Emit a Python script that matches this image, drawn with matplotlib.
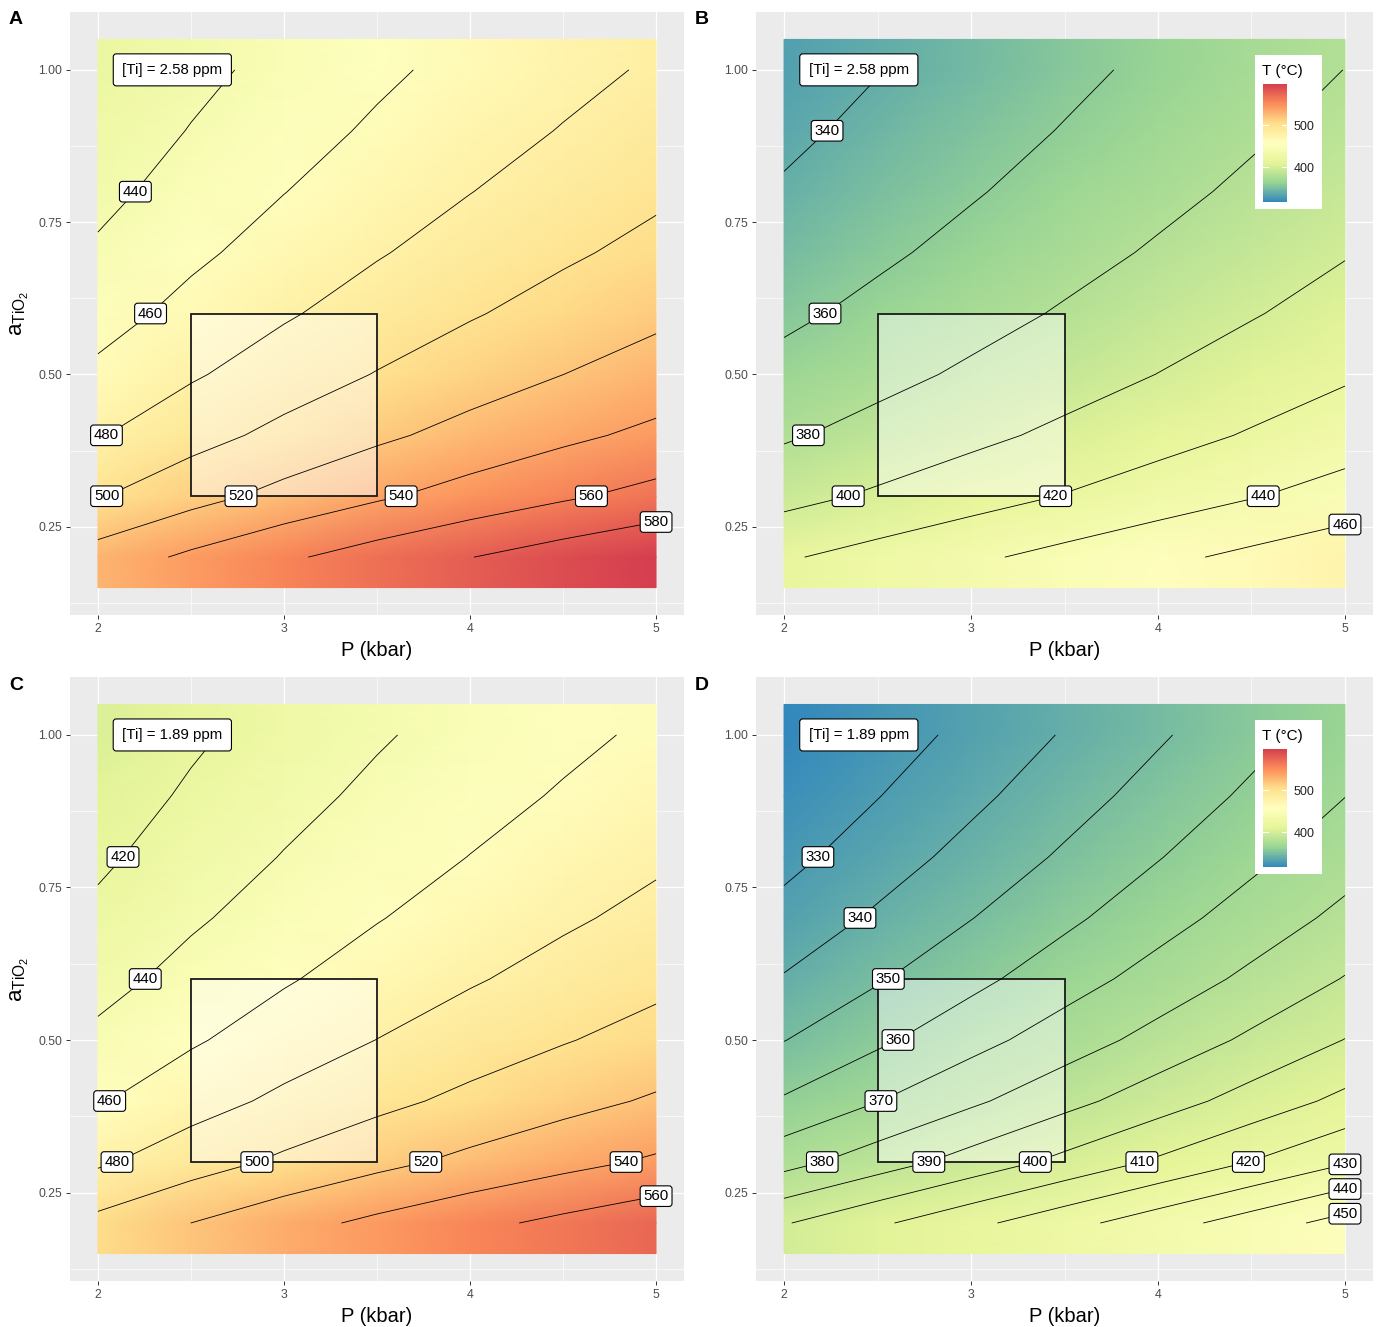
import numpy as np
import matplotlib
matplotlib.use("Agg")
import matplotlib.pyplot as plt
from matplotlib.colors import LinearSegmentedColormap, Normalize
from matplotlib.cm import ScalarMappable
from matplotlib.patches import Rectangle

plt.rcParams['font.family'] = ['Liberation Sans', 'DejaVu Sans']
plt.rcParams['mathtext.fontset'] = 'custom'
plt.rcParams['mathtext.rm'] = 'Liberation Sans'
plt.rcParams['mathtext.it'] = 'Liberation Sans:italic'

W, H = 1379, 1327

# ---- data: T (degC) on a grid of P (kbar) x aTiO2 ----
pressure = [2, 2.5, 3, 3.5, 4, 4.5, 5]
a_tio2 = [0.2, 0.3, 0.4, 0.5, 0.6, 0.7, 0.8, 0.9, 1.0]

# rows follow a_tio2, columns follow pressure
temp_a = [[528.60, 543.68, 556.90, 568.76, 579.57, 589.53, 598.79],
          [498.63, 513.15, 525.88, 537.30, 547.70, 557.28, 566.20],
          [478.70, 492.84, 505.24, 516.36, 526.49, 535.83, 544.51],
          [463.93, 477.79, 489.95, 500.85, 510.78, 519.93, 528.45],
          [452.28, 465.92, 477.89, 488.62, 498.40, 507.41, 515.79],
          [442.72, 456.18, 467.99, 478.58, 488.23, 497.12, 505.39],
          [434.64, 447.95, 459.63, 470.10, 479.64, 488.43, 496.60],
          [427.66, 440.84, 452.40, 462.77, 472.21, 480.91, 489.01],
          [421.54, 434.60, 446.06, 456.34, 465.70, 474.33, 482.35]]
temp_b = [[417.94, 427.28, 436.62, 445.96, 455.29, 464.63, 473.96],
          [393.82, 402.83, 411.84, 420.85, 429.86, 438.87, 447.88],
          [377.71, 386.51, 395.30, 404.09, 412.88, 421.68, 430.47],
          [365.73, 374.36, 382.99, 391.63, 400.26, 408.89, 417.52],
          [356.27, 364.78, 373.28, 381.79, 390.29, 398.79, 407.29],
          [348.49, 356.89, 365.29, 373.69, 382.09, 390.49, 398.88],
          [341.90, 350.21, 358.52, 366.83, 375.14, 383.45, 391.76],
          [336.21, 344.44, 352.67, 360.91, 369.14, 377.37, 385.60],
          [331.20, 339.37, 347.53, 355.70, 363.86, 372.03, 380.19]]
temp_c = [[505.40, 520.04, 532.88, 544.40, 554.89, 564.56, 573.55],
          [477.11, 491.22, 503.60, 514.70, 524.81, 534.13, 542.79],
          [458.26, 472.02, 484.08, 494.90, 504.75, 513.83, 522.28],
          [444.27, 457.76, 469.60, 480.21, 489.88, 498.79, 507.08],
          [433.24, 446.52, 458.17, 468.62, 478.14, 486.91, 495.07],
          [424.17, 437.28, 448.78, 459.09, 468.49, 477.15, 485.21],
          [416.50, 429.47, 440.84, 451.04, 460.34, 468.90, 476.87],
          [409.87, 422.72, 433.98, 444.09, 453.29, 461.77, 469.66],
          [404.05, 416.79, 427.96, 437.98, 447.10, 455.51, 463.33]]
temp_d = [[399.26, 408.35, 417.43, 426.52, 435.60, 444.69, 453.77],
          [376.41, 385.19, 393.96, 402.74, 411.51, 420.29, 429.06],
          [361.12, 369.69, 378.25, 386.82, 395.39, 403.96, 412.53],
          [349.74, 358.16, 366.57, 374.99, 383.40, 391.82, 400.23],
          [340.74, 349.04, 357.33, 365.63, 373.92, 382.21, 390.50],
          [333.34, 341.54, 349.73, 357.92, 366.11, 374.31, 382.50],
          [327.06, 335.17, 343.28, 351.39, 359.50, 367.61, 375.71],
          [321.64, 329.68, 337.71, 345.75, 353.78, 361.82, 369.85],
          [316.87, 324.84, 332.81, 340.78, 348.75, 356.73, 364.70]]

ti_ppm = ["2.58", "2.58", "1.89", "1.89"]
panel_tags = ["A", "B", "C", "D"]

levels_a = [440, 460, 480, 500, 520, 540, 560, 580]
levels_b = [340, 360, 380, 400, 420, 440, 460]
levels_c = [420, 440, 460, 480, 500, 520, 540, 560]
levels_d = [330, 340, 350, 360, 370, 380, 390, 400, 410, 420, 430, 440, 450]

# aTiO2 row where each contour label sits (None = at the right-hand end)
label_rows_a = [0.8, 0.6, 0.4, 0.3, 0.3, 0.3, 0.3, None]
label_rows_b = [0.9, 0.6, 0.4, 0.3, 0.3, 0.3, None]
label_rows_c = [0.8, 0.6, 0.4, 0.3, 0.3, 0.3, 0.3, None]
label_rows_d = [0.8, 0.7, 0.6, 0.5, 0.4, 0.3, 0.3, 0.3, 0.3, 0.3, None, None, None]

box_p = (2.5, 3.5)
box_a = (0.3, 0.6)
ppm_label_pos = (2.4, 1.0)

spectral = ["#3288BD", "#99D594", "#E6F598", "#FFFFBF", "#FEE08B", "#FC8D59", "#D53E4F"]
cmap = LinearSegmentedColormap.from_list("spectral_r", spectral)

all_t = np.concatenate([np.ravel(t) for t in (temp_a, temp_b, temp_c, temp_d)])
norm = Normalize(vmin=all_t.min(), vmax=all_t.max())


def px_axes(fig, x0, y0, x1, y1):
    return fig.add_axes([x0 / W, 1 - y1 / H, (x1 - x0) / W, (y1 - y0) / H])


def draw_panel(ax, temps, levels, label_rows, ppm):
    ax.set_facecolor('#EBEBEB')
    ax.set_xlim(1.85, 5.15)
    ax.set_ylim(0.105, 1.095)
    ax.set_xticks([2, 3, 4, 5])
    ax.set_xticklabels(["2", "3", "4", "5"])
    ax.set_xticks([2.5, 3.5, 4.5], minor=True)
    ax.set_yticks([0.25, 0.5, 0.75, 1.0])
    ax.set_yticklabels(["0.25", "0.50", "0.75", "1.00"])
    ax.set_yticks([0.125, 0.375, 0.625, 0.875], minor=True)
    ax.grid(which='major', color='white', lw=0.9)
    ax.grid(which='minor', color='white', lw=0.45)
    ax.set_axisbelow(True)
    for s in ax.spines.values():
        s.set_visible(False)
    ax.tick_params(which='major', length=3, width=0.7, color='#333333',
                   labelsize=8.8, labelcolor='#4D4D4D', pad=2.5)
    ax.tick_params(which='minor', length=0)

    z = np.array(temps)
    a = np.array(a_tio2)
    half = (a[1] - a[0]) / 2
    # raster tiles reach half a row past the first and last rows
    ys = np.concatenate([[a[0] - half], a, [a[-1] + half]])
    zz = np.vstack([z[:1], z, z[-1:]])
    X, Y = np.meshgrid(pressure, ys)
    ax.pcolormesh(X, Y, zz, shading='gouraud', cmap=cmap, norm=norm, zorder=1)

    ax.add_patch(Rectangle((box_p[0], box_a[0]), box_p[1] - box_p[0], box_a[1] - box_a[0],
                           fc=(1, 1, 1, 0.45), ec='#1A1A1A', lw=1.3, zorder=2))

    cs = ax.contour(pressure, a_tio2, z, levels=levels, colors='black',
                    linewidths=0.6, zorder=3)

    for lev, row, path in zip(levels, label_rows, cs.get_paths()):
        v = path.vertices
        if len(v) == 0:
            continue
        if row is None:
            x, y = v[np.argmax(v[:, 0])]
        else:
            order = np.argsort(v[:, 1])
            x = np.interp(row, v[order, 1], v[order, 0])
            y = row
        ax.text(x, y, str(lev), ha='center', va='center', fontsize=10.8, zorder=5,
                bbox=dict(boxstyle='round,pad=0.22,rounding_size=0.2',
                          fc='white', ec='black', lw=0.8))

    ax.text(ppm_label_pos[0], ppm_label_pos[1], "[Ti] = %s ppm" % ppm,
            ha='center', va='center', fontsize=10.8, zorder=5,
            bbox=dict(boxstyle='round,pad=0.6,rounding_size=0.2',
                      fc='white', ec='black', lw=0.8))


def draw_legend(fig, x0, y0):
    lax = px_axes(fig, x0, y0, x0 + 67, y0 + 154)
    lax.axis('off')
    lax.add_patch(Rectangle((0, 0), 1, 1, transform=lax.transAxes, fc='white', ec='none'))
    lax.text(7 / 67, 1 - 16 / 154, "T (°C)", transform=lax.transAxes,
             ha='left', va='center', fontsize=11)
    cax = px_axes(fig, x0 + 8, y0 + 29, x0 + 32, y0 + 147)
    cb = fig.colorbar(ScalarMappable(norm=norm, cmap=cmap), cax=cax, ticks=[400, 500])
    cb.outline.set_visible(False)
    cax.tick_params(length=0, labelsize=9, pad=5, labelcolor='#222222')
    for t in [400, 500]:
        cax.axhline(t, xmin=0, xmax=0.2, color='white', lw=0.8)
        cax.axhline(t, xmin=0.8, xmax=1, color='white', lw=0.8)


fig = plt.figure(figsize=(W / 100, H / 100), dpi=100)

panels = [
    (temp_a, levels_a, label_rows_a, (70, 12, 684, 615)),
    (temp_b, levels_b, label_rows_b, (756, 12, 1373, 615)),
    (temp_c, levels_c, label_rows_c, (70, 677, 684, 1281)),
    (temp_d, levels_d, label_rows_d, (756, 677, 1373, 1281)),
]

for i, (temps, levels, rows, (x0, y0, x1, y1)) in enumerate(panels):
    ax = px_axes(fig, x0, y0, x1, y1)
    draw_panel(ax, temps, levels, rows, ti_ppm[i])
    fig.text((x0 + x1) / 2 / W, 1 - (y1 + 35) / H, "P (kbar)",
             ha='center', va='center', fontsize=14.5)
    fig.text((x0 - 54) / W, 1 - (y0 + 8) / H, panel_tags[i],
             ha='center', va='center', fontsize=14, weight='bold')
    if i % 2 == 0:
        fig.text(20 / W, 1 - (y0 + y1) / 2 / H, r'$\mathrm{a}_{\mathrm{TiO}_2}$',
                 rotation=90, ha='center', va='center', fontsize=16)
    else:
        draw_legend(fig, 1255, y0 + 43)

fig.savefig("out.png", dpi=100)
